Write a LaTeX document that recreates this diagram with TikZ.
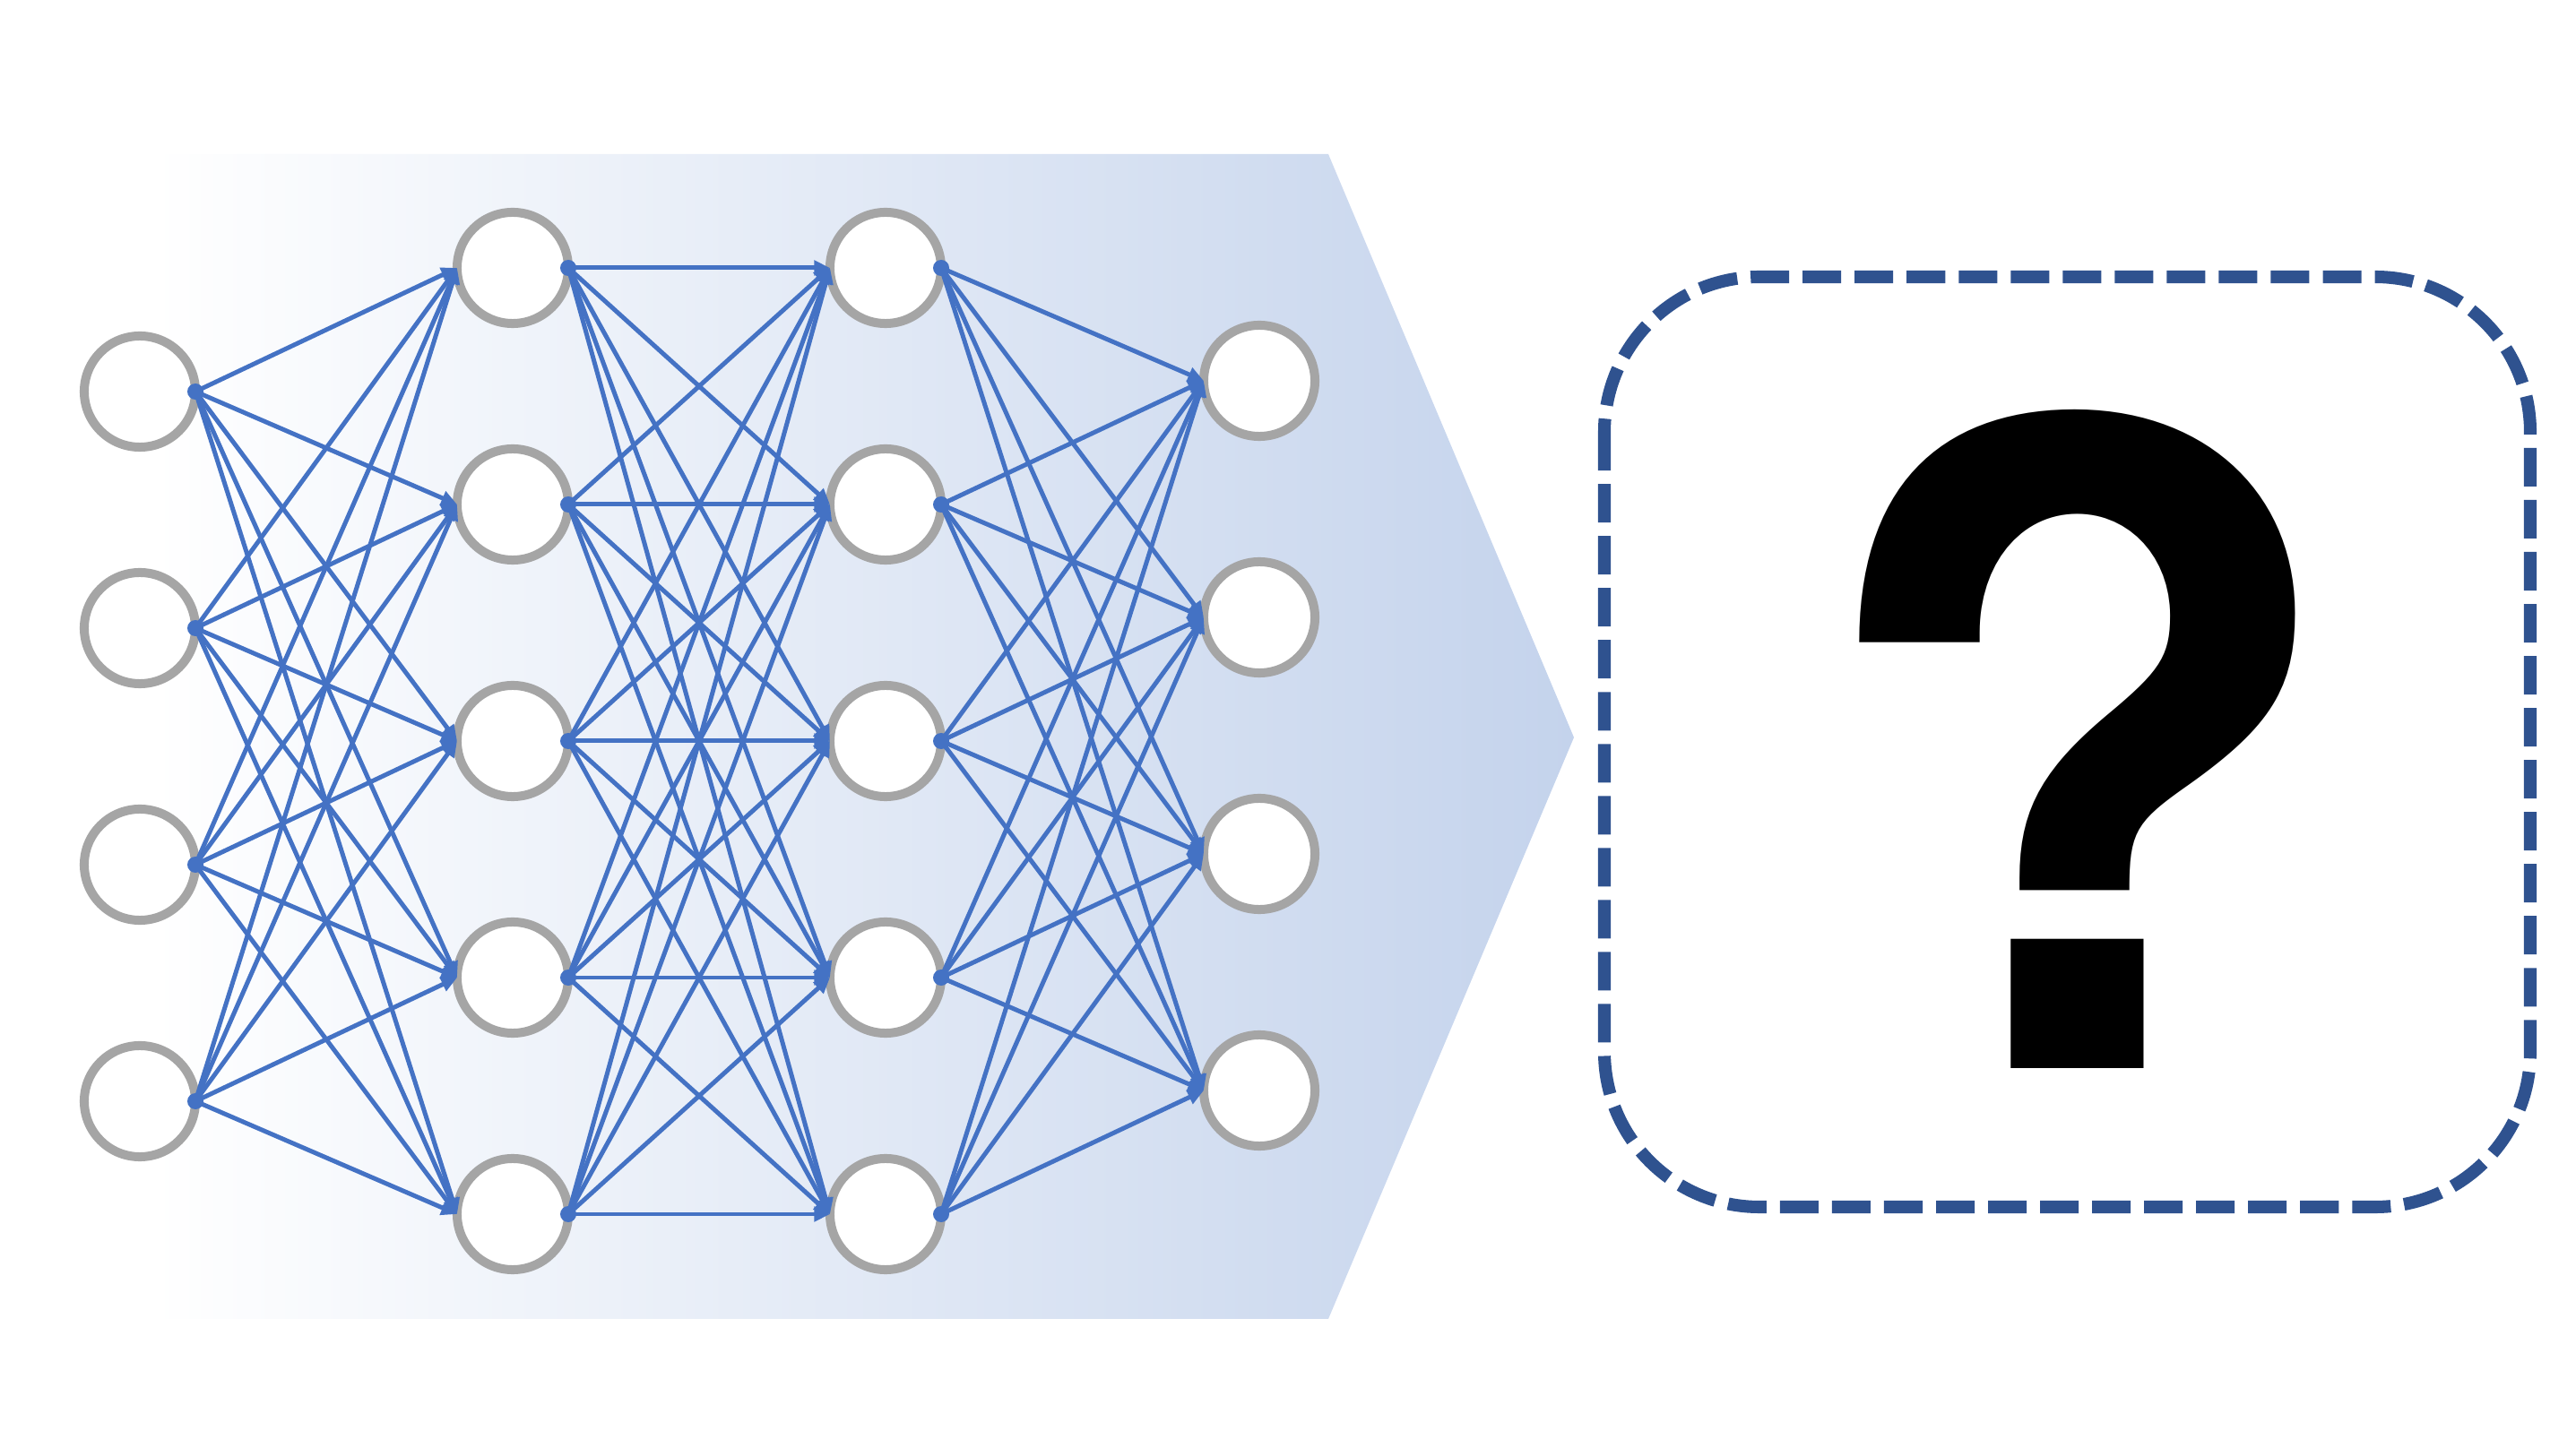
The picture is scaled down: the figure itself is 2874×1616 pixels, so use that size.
\documentclass[tikz,border=0pt]{standalone}
\usepackage{fontspec}
\newfontfamily\qfont{TeX Gyre Heros}
\usetikzlibrary{arrows.meta}
\definecolor{edgeblue}{RGB}{68,114,196}
\definecolor{ringgray}{RGB}{165,165,165}
\definecolor{boxblue}{RGB}{47,82,143}
\definecolor{shadeM}{RGB}{237,241,249}
\definecolor{shadeR}{RGB}{196,211,236}
\tikzset{
  neuron/.style={circle, draw=ringgray, fill=white, line width=2.85pt, minimum size=1.24cm, inner sep=0pt, outer sep=0pt},
  edge/.style={draw=edgeblue, line width=1.42pt, -{Triangle[length=5pt,width=4.6pt]}},
  srcdot/.style={fill=edgeblue},
  qbox/.style={draw=boxblue, line width=4pt, dash pattern=on 0.43cm off 0.15cm, rounded corners=1.73cm}
}
\begin{document}
\begin{tikzpicture}[x=0.01cm, y=-0.01cm]
\useasboundingbox (0,0) rectangle (2874,1616);
% background arrow
\shade[left color=white, middle color=shadeM, right color=shadeR] (170,172) -- (1482,172) -- (1756,823) -- (1482,1472) -- (170,1472) -- cycle;
% neurons
\foreach \i/\y in {1/437,2/701,3/965,4/1229} \node[neuron] (a\i) at (156,\y) {};
\foreach \i/\y in {1/299,2/563,3/827,4/1091,5/1355} \node[neuron] (b\i) at (572,\y) {};
\foreach \i/\y in {1/299,2/563,3/827,4/1091,5/1355} \node[neuron] (c\i) at (988,\y) {};
\foreach \i/\y in {1/425,2/689,3/953,4/1217} \node[neuron] (d\i) at (1405,\y) {};
% connections
\foreach \s in {1,...,4} \foreach \t in {1,...,5} \draw[edge] (a\s.east) -- (b\t.west);
\foreach \s in {1,...,5} \foreach \t in {1,...,5} \draw[edge] (b\s.east) -- (c\t.west);
\foreach \s in {1,...,5} \foreach \t in {1,...,4} \draw[edge] (c\s.east) -- (d\t.west);
% source dots
\foreach \s in {1,...,4} \fill[srcdot] (a\s.east) circle (9);
\foreach \s in {1,...,5} \fill[srcdot] (b\s.east) circle (9);
\foreach \s in {1,...,5} \fill[srcdot] (c\s.east) circle (9);
% question box
\draw[qbox] (1790,309) rectangle (2823,1347);
\node[anchor=base, inner sep=0pt] (q) at (2317,1193) {\fontsize{281}{281}\selectfont\qfont\bfseries ?};
\end{tikzpicture}
\end{document}
